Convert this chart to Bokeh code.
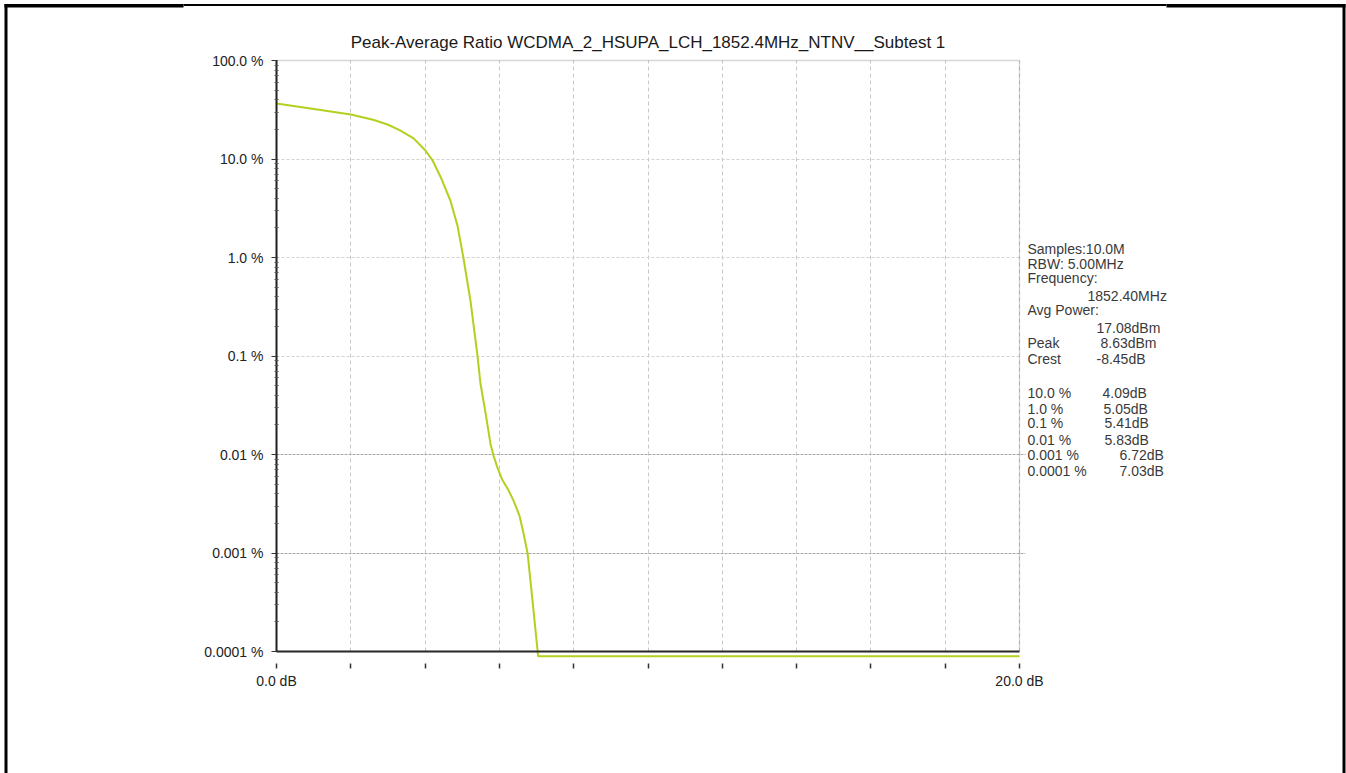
from bokeh.plotting import figure
from bokeh.models import Range1d, FixedTicker, Label, BoxAnnotation, Grid
from bokeh.embed import file_html
from bokeh.resources import INLINE

# ---------------- data ----------------
title_text = "Peak-Average Ratio WCDMA_2_HSUPA_LCH_1852.4MHz_NTNV__Subtest 1"

ccdf_db = [0.0, 0.915, 2.0, 2.6, 2.99, 3.34, 3.69, 4.01, 4.2, 4.44, 4.68, 4.87, 5.03,
           5.22, 5.41, 5.49, 5.63, 5.76, 5.84, 5.95, 6.08, 6.25, 6.38, 6.54, 6.65,
           6.76, 6.89, 7.03, 7.04, 20.0]
ccdf_pct = [36.6, 32.6, 28.3, 25.0, 22.4, 19.4, 16.2, 12.2, 9.7, 6.3, 3.79, 2.12, 1.0,
            0.366, 0.101, 0.0526, 0.026, 0.0128, 0.0098, 0.0073, 0.0055, 0.0043, 0.0034, 0.0024, 0.00158,
            0.00099, 0.00033, 0.0001, 0.0000895, 0.0000895]

x_ticks = [0, 2, 4, 6, 8, 10, 12, 14, 16, 18, 20]
x_tick_labels = {0: "0.0 dB", 20: "20.0 dB"}
y_ticks = [0.0001, 0.001, 0.01, 0.1, 1, 10, 100]
y_tick_labels = ["0.0001 %", "0.001 %", "0.01 %", "0.1 %", "1.0 %", "10.0 %", "100.0 %"]
y_grid_faint = [0.1, 1, 10]
y_grid_dark = [0.001, 0.01]

info_lines = ["Samples:10.0M", "RBW: 5.00MHz", "Frequency:"]
freq_text = "1852.40MHz"
avg_power_label = "Avg Power:"
avg_power_text = "17.08dBm"
peak_text = "8.63dBm"
crest_text = "-8.45dB"
stat_levels = ["10.0 %", "1.0 %", "0.1 %", "0.01 %", "0.001 %", "0.0001 %"]
stat_values = ["4.09dB", "5.05dB", "5.41dB", "5.83dB", "6.72dB", "7.03dB"]

# ---------------- layout ----------------
W, H = 1346, 773
F_LEFT, F_RIGHT, F_TOP = 276, 1019, 60    # pixel positions of 0 dB, 20 dB, 100 %
DEC = 98.5                                 # px per decade

def xd(px):
    return (px - F_LEFT) * 20.0 / (F_RIGHT - F_LEFT)

def yd(py):
    return 10 ** (2 - (py - F_TOP) / DEC)

FONT = "Liberation Sans"

p = figure(width=W, height=H, x_range=Range1d(xd(0), xd(W)), y_range=Range1d(yd(H), yd(0)),
           y_axis_type="log", output_backend="svg", toolbar_location=None,
           min_border=0, min_border_left=0, min_border_right=0,
           min_border_top=0, min_border_bottom=0)
p.outline_line_color = None
p.background_fill_color = "white"
p.border_fill_color = "white"

# x axis
xa = p.xaxis[0]
xa.fixed_location = 0.0001
xa.bounds = (0, 20)
xa.ticker = FixedTicker(ticks=x_ticks)
xa.major_label_overrides = {t: x_tick_labels.get(t, "") for t in x_ticks}
xa.axis_line_color = "#2a2a2a"
xa.axis_line_width = 2
xa.major_tick_in = -12
xa.major_tick_out = 17
xa.major_tick_line_color = "#333333"
xa.major_tick_line_width = 1.5
xa.minor_tick_line_color = None
xa.major_label_standoff = 4
xa.major_label_text_font = FONT
xa.major_label_text_font_size = "14px"
xa.major_label_text_color = "#222222"

# y axis
minor = []
for d in range(-4, 2):
    for k in range(2, 10):
        minor.append(k * 10 ** d)
ya = p.yaxis[0]
ya.fixed_location = 0
ya.bounds = (0.0001, 100)
ya.ticker = FixedTicker(ticks=y_ticks, minor_ticks=minor)
ya.major_label_overrides = {t: lab for t, lab in zip(y_ticks, y_tick_labels)}
ya.axis_line_color = "#222222"
ya.axis_line_width = 2
ya.major_tick_in = 1
ya.major_tick_out = 5
ya.major_tick_line_color = "#333333"
ya.minor_tick_in = 2
ya.minor_tick_out = 2
ya.minor_tick_line_color = "#555555"
ya.major_label_standoff = 8
ya.major_label_text_font = FONT
ya.major_label_text_font_size = "14px"
ya.major_label_text_color = "#222222"

# grids
p.xgrid.grid_line_color = "#c8c8c8"
p.xgrid.grid_line_dash = "4 3"
p.xgrid.cross_bounds = (0.0001, 100)
p.ygrid.ticker = FixedTicker(ticks=y_grid_faint)
p.ygrid.grid_line_color = "#d2d2d2"
p.ygrid.grid_line_dash = "3 2"
p.ygrid.cross_bounds = (0, 20)
p.add_layout(Grid(dimension=1, ticker=FixedTicker(ticks=y_grid_dark),
                  grid_line_color="#a8a8a8", grid_line_dash="3 1",
                  cross_bounds=(0, xd(1025))))

# plot box (top / right edges)
p.add_layout(BoxAnnotation(left=0, right=20, bottom=0.0001, top=100,
                           fill_color=None, fill_alpha=0, line_color="#7a7a7a",
                           line_width=1.3, level="underlay"))

# curve
p.line(ccdf_db, ccdf_pct, line_color="#b5cf1f", line_width=2)

# title
p.add_layout(Label(x=10, y=yd(41.5), text=title_text, text_align="center",
                   text_baseline="middle", text_font=FONT, text_font_size="17px",
                   text_color="#1a1a1a"))

# stats text
def add_txt(txt, px, py):
    p.add_layout(Label(x=xd(px), y=yd(py), text=txt, text_align="left",
                       text_baseline="middle", text_font=FONT, text_font_size="14px",
                       text_color="#3a3a3a"))

for i, t in enumerate(info_lines):
    add_txt(t, 1027, 248.7 + i * 14.5)
add_txt(freq_text, 1087, 295)
add_txt(avg_power_label, 1027, 309.3)
add_txt(avg_power_text, 1096, 327.3)
add_txt("Peak", 1027, 342.7)
add_txt(peak_text, 1100, 342.7)
add_txt("Crest", 1027, 358.3)
add_txt(crest_text, 1096, 358.3)
row_y = [392.3, 408, 422.7, 439.3, 454.3, 470]
val_x = [1102, 1103, 1104, 1104, 1119, 1119]
for lev, val, ry, vx in zip(stat_levels, stat_values, row_y, val_x):
    add_txt(lev, 1027, ry)
    add_txt(val, vx, ry)

# page border
def box(l, r, t, b):
    p.add_layout(BoxAnnotation(left=xd(l), right=xd(r), top=yd(t), bottom=yd(b),
                               fill_color="black", fill_alpha=1.0, line_color=None))

box(4, 7, 3.5, H)
box(1342, 1345, 3.5, H)
box(4, 183, 3.5, 7)
box(183, 1166, 3.5, 5.5)
box(1166, 1345, 3.5, 7)

open("out.html", "w").write(file_html(p, INLINE))
